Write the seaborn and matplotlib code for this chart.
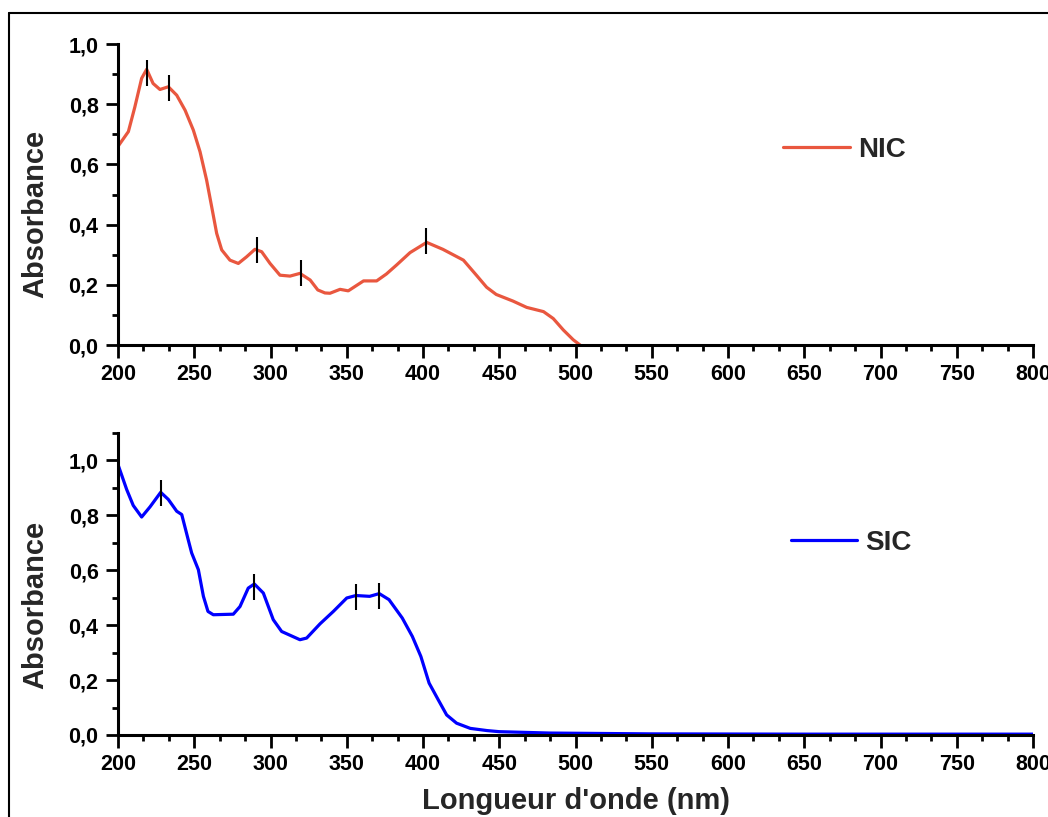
import numpy as np
import pandas as pd
import matplotlib
matplotlib.use("Agg")
import matplotlib.pyplot as plt
import matplotlib.ticker as ticker
from matplotlib.lines import Line2D
import seaborn as sns

# NIC spectrum
nic_wl = [200, 206.8, 211, 215.5, 218.8, 223, 227.5, 233, 238.5, 244, 249.4, 253.8, 258.1, 261.4,
          264.7, 268, 273.4, 278.9, 284.3, 289.8, 294.2, 299.7, 306.2, 312.8, 319.3, 326, 331,
          335.7, 339, 345.6, 351, 361, 369.6, 376, 382.7, 391.5, 402.4, 413, 426.5, 435,
          441.7, 448, 459, 468, 479, 485.4, 492, 498.6, 503]
nic_abs = [0.66, 0.709, 0.79, 0.886, 0.916, 0.869, 0.849, 0.858, 0.83, 0.78, 0.714, 0.642, 0.548, 0.46,
           0.371, 0.316, 0.282, 0.271, 0.293, 0.318, 0.31, 0.271, 0.232, 0.229, 0.238, 0.216, 0.183,
           0.173, 0.172, 0.185, 0.18, 0.213, 0.213, 0.236, 0.266, 0.307, 0.341, 0.318, 0.282, 0.232,
           0.192, 0.168, 0.146, 0.125, 0.111, 0.088, 0.05, 0.017, 0.0]
nic_peak_wl = [219, 233.5, 291, 320, 402]
nic_peak_abs = [0.905, 0.855, 0.315, 0.24, 0.345]

# SIC spectrum
sic_wl = [200, 205.7, 210, 215.5, 221, 228, 233, 238.5, 241.8, 246, 248.3, 252.7, 256, 259, 262.5,
          275.6, 280, 285.4, 289.4, 295.3, 301.8, 307.3, 319.3, 323.7, 332.5, 341.2, 350, 356, 365,
          371.3, 377.7, 386.4, 393, 398.6, 404, 410, 415.5, 422, 431, 442, 450, 483, 549, 650, 800]
sic_abs = [0.985, 0.894, 0.836, 0.794, 0.831, 0.884, 0.858, 0.815, 0.803, 0.712, 0.663, 0.602, 0.505, 0.45, 0.438,
           0.44, 0.468, 0.535, 0.55, 0.517, 0.42, 0.377, 0.347, 0.353, 0.405, 0.45, 0.499, 0.508, 0.505,
           0.515, 0.493, 0.426, 0.359, 0.286, 0.189, 0.128, 0.073, 0.043, 0.024, 0.016, 0.012, 0.007, 0.004, 0.003, 0.003]
sic_peak_wl = [228, 289.4, 356, 371.3]
sic_peak_abs = [0.883, 0.538, 0.503, 0.507]

x_ticks = list(range(200, 801, 50))
y_ticks = [0.0, 0.2, 0.4, 0.6, 0.8, 1.0]

sns.set_style("ticks")
plt.rcParams['font.family'] = ['Liberation Sans', 'DejaVu Sans']
plt.rcParams['font.weight'] = 'bold'

fig = plt.figure(figsize=(10.48, 8.17), dpi=100)
ax1 = fig.add_axes([0.1126, 0.5777, 0.8731, 0.3684])
ax2 = fig.add_axes([0.1126, 0.1004, 0.8731, 0.3696])

comma = ticker.FuncFormatter(lambda v, p: f'{v:.1f}'.replace('.', ','))

def style_axis(ax, ytop):
    ax.set_xlim(200, 800)
    ax.set_ylim(0, ytop)
    ax.set_xticks(x_ticks)
    ax.set_yticks(y_ticks)
    ax.xaxis.set_minor_locator(ticker.AutoMinorLocator(3))
    ax.yaxis.set_minor_locator(ticker.MultipleLocator(0.1))
    ax.yaxis.set_major_formatter(comma)
    for s in ['top', 'right']:
        ax.spines[s].set_visible(False)
    for s in ['left', 'bottom']:
        ax.spines[s].set_linewidth(2.2)
        ax.spines[s].set_color('black')
    ax.tick_params(which='major', direction='out', length=9, width=2, labelsize=15.5, pad=5, colors='black')
    ax.tick_params(which='minor', direction='out', length=4.5, width=2, colors='black')
    for lab in ax.get_xticklabels() + ax.get_yticklabels():
        lab.set_fontweight('bold')
    ax.set_xlabel('')
    ax.set_ylabel('Absorbance', fontsize=21, fontweight='bold')

df_nic = pd.DataFrame({'wl': nic_wl, 'abs': nic_abs})
df_sic = pd.DataFrame({'wl': sic_wl, 'abs': sic_abs})

sns.lineplot(data=df_nic, x='wl', y='abs', ax=ax1, color='#E9573F', lw=2.3, label='NIC', estimator=None)
ax1.plot(nic_peak_wl, nic_peak_abs, ls='none', marker='|', ms=19, mew=1.5, color='black')
style_axis(ax1, 1.0)
ax1.yaxis.set_label_coords(-0.0754, 0.437)

sns.lineplot(data=df_sic, x='wl', y='abs', ax=ax2, color='#0000FF', lw=2.3, label='SIC', estimator=None)
ax2.plot(sic_peak_wl, sic_peak_abs, ls='none', marker='|', ms=19, mew=1.5, color='black')
style_axis(ax2, 1.1)
ax2.yaxis.set_label_coords(-0.0754, 0.43)

for ax, anchor in [(ax1, (0.727, 0.648)), (ax2, (0.735, 0.636))]:
    leg = ax.legend(loc='center left', bbox_to_anchor=anchor, frameon=False, borderpad=0,
                    borderaxespad=0, handlelength=2.4, handletextpad=0.3,
                    prop={'size': 20, 'weight': 'bold'})

fig.text(575.5 / 1048, 1 - 801 / 817, "Longueur d'onde (nm)", ha='center', va='center',
         fontsize=21, fontweight='bold')

# outer frame (left and top edges visible)
fig.add_artist(Line2D([9 / 1048, 9 / 1048], [0, 1 - 13 / 817], transform=fig.transFigure, color='black', lw=1.5))
fig.add_artist(Line2D([9 / 1048, 1], [1 - 13 / 817, 1 - 13 / 817], transform=fig.transFigure, color='black', lw=1.5))

fig.savefig('out.png', dpi=100)
